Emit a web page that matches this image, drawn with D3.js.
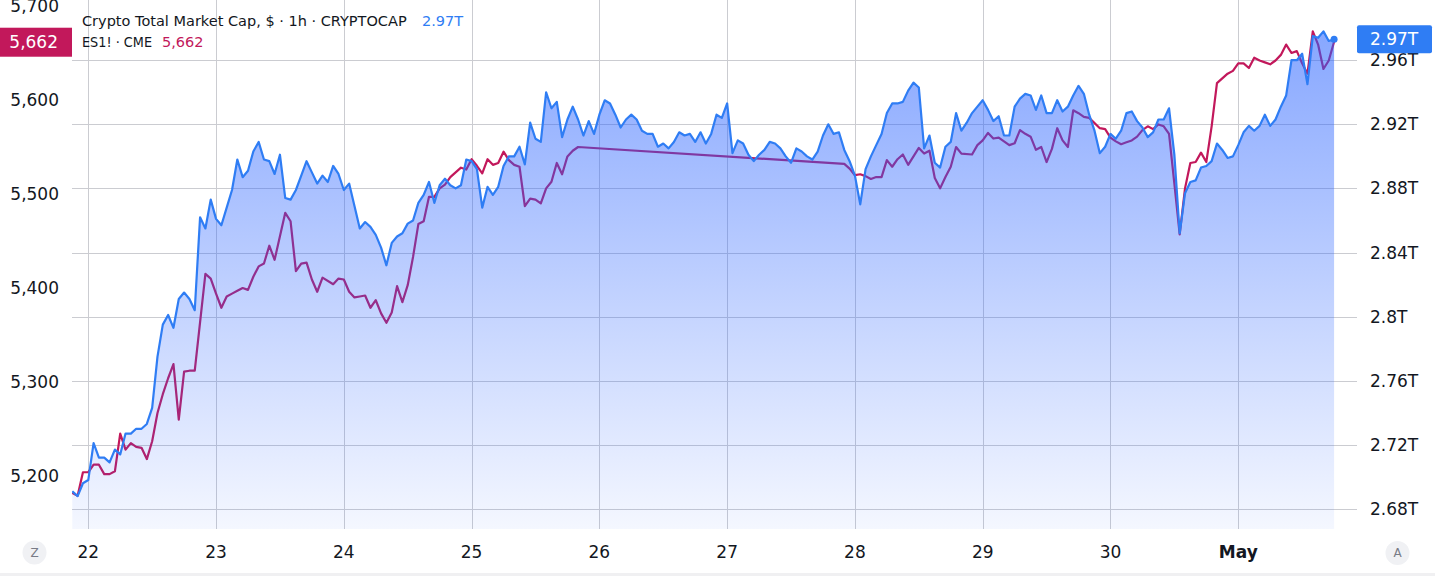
<!DOCTYPE html>
<html>
<head>
<meta charset="utf-8">
<script src="https://cdn.jsdelivr.net/npm/d3@7/dist/d3.min.js"></script>
<style>
  html, body { margin: 0; padding: 0; background: #ffffff; }
  svg { display: block; }
  text { font-family: "DejaVu Sans", "Noto Sans", sans-serif; }
</style>
</head>
<body>
<svg id="chart" width="1435" height="576"></svg>
<script>
// ---------------- DATA (hourly, UTC, starting 2025-04-21 21:00) ----------------
const startTime = Date.UTC(2025, 3, 21, 21);

// Crypto Total Market Cap, trillions of USD
const cryptoValues = [
  2.691, 2.688, 2.696,
  // Apr 22
  2.698, 2.721, 2.712, 2.712, 2.709, 2.717, 2.714, 2.727, 2.727, 2.730, 2.730, 2.733,
  2.743, 2.775, 2.795, 2.801, 2.793, 2.811, 2.815, 2.811, 2.804, 2.862, 2.855, 2.873,
  // Apr 23
  2.861, 2.857, 2.868, 2.879, 2.898, 2.887, 2.891, 2.903, 2.909, 2.898, 2.897, 2.889,
  2.901, 2.874, 2.873, 2.879, 2.888, 2.897, 2.890, 2.883, 2.888, 2.884, 2.894, 2.889,
  // Apr 24
  2.879, 2.883, 2.869, 2.855, 2.859, 2.856, 2.851, 2.843, 2.832, 2.846, 2.850, 2.852,
  2.858, 2.860, 2.871, 2.876, 2.884, 2.871, 2.882, 2.886, 2.882, 2.880, 2.882, 2.898,
  // Apr 25
  2.897, 2.892, 2.868, 2.881, 2.876, 2.881, 2.894, 2.900, 2.900, 2.906, 2.895, 2.921,
  2.911, 2.909, 2.940, 2.930, 2.934, 2.912, 2.923, 2.931, 2.923, 2.913, 2.922, 2.914,
  // Apr 26
  2.926, 2.935, 2.933, 2.926, 2.918, 2.923, 2.926, 2.923, 2.916, 2.914, 2.914, 2.906,
  2.908, 2.905, 2.909, 2.915, 2.913, 2.914, 2.909, 2.915, 2.908, 2.914, 2.926, 2.924,
  // Apr 27
  2.933, 2.902, 2.910, 2.908, 2.901, 2.897, 2.901, 2.904, 2.909, 2.908, 2.905, 2.900,
  2.896, 2.905, 2.903, 2.900, 2.898, 2.903, 2.913, 2.920, 2.914, 2.915, 2.904, 2.897,
  // Apr 28
  2.888, 2.870, 2.892, 2.900, 2.907, 2.914, 2.927, 2.933, 2.933, 2.934, 2.941, 2.946,
  2.943, 2.905, 2.913, 2.896, 2.893, 2.906, 2.909, 2.927, 2.916, 2.921, 2.927, 2.931,
  // Apr 29
  2.935, 2.929, 2.922, 2.925, 2.913, 2.913, 2.931, 2.936, 2.939, 2.938, 2.929, 2.938,
  2.927, 2.927, 2.935, 2.928, 2.931, 2.938, 2.944, 2.939, 2.926, 2.916, 2.902, 2.906,
  // Apr 30
  2.914, 2.911, 2.916, 2.927, 2.928, 2.922, 2.918, 2.912, 2.915, 2.923, 2.923, 2.930,
  2.901, 2.852, 2.877, 2.884, 2.885, 2.893, 2.894, 2.897, 2.908, 2.904, 2.899, 2.900,
  // May 1
  2.907, 2.915, 2.919, 2.916, 2.919, 2.926, 2.919, 2.923, 2.931, 2.938, 2.960, 2.960,
  2.964, 2.945, 2.975, 2.974, 2.978, 2.972, 2.973
];

// ES1! (CME E-mini S&P 500), null = no bar (daily break / weekend)
const esValues = [
  5182, 5179, 5204,
  // Apr 22
  5204, 5212, 5212, 5202, 5202, 5205, 5245, 5228, 5235, 5231, 5230, 5218,
  5237, 5267, 5287, 5304, 5319, 5260, 5311, 5312, 5312, null, 5415, 5410,
  // Apr 23
  5394, 5379, 5391, 5394, 5397, 5400, 5398, 5412, 5423, 5426, 5445, 5430,
  5455, 5480, 5471, 5418, 5426, 5427, 5409, 5396, 5411, null, 5404, 5410,
  // Apr 24
  5409, 5396, 5390, 5391, 5392, 5379, 5387, 5373, 5363, 5374, 5402, 5385,
  5403, 5433, 5468, 5471, 5497, 5497, 5506, 5510, 5518, null, 5528, 5526,
  // Apr 25
  5537, 5530, 5522, 5537, 5531, 5533, 5545, 5536, 5531, 5529, 5487, 5495,
  5494, 5490, 5506, 5513, 5533, 5521, 5540, 5546, 5550, null, null, null,
  // Apr 26
  null, null, null, null, null, null, null, null, null, null, null, null,
  null, null, null, null, null, null, null, null, null, null, null, null,
  // Apr 27
  null, null, null, null, null, null, null, null, null, null, null, null,
  null, null, null, null, null, null, null, null, null, null, 5532, 5527,
  // Apr 28
  5520, 5521, 5519, 5516, 5518, 5518, 5536, 5529, 5537, 5542, 5531, 5540,
  5549, 5543, 5546, 5517, 5506, 5518, 5529, 5550, 5543, null, 5542, 5552,
  // Apr 29
  5557, 5565, 5559, 5560, 5556, 5552, 5554, 5568, 5564, 5561, 5547, 5550,
  5534, 5548, 5570, 5557, 5550, 5589, 5586, 5582, 5581, null, 5570, 5569,
  // Apr 30
  5560, 5556, 5553, 5555, 5557, 5561, 5568, 5572, 5569, 5574, 5572, 5564,
  5511, 5457, 5506, 5533, 5534, 5544, 5534, 5572, 5618, null, 5628, 5631,
  // May 1
  5639, 5639, 5634, 5645, 5642, 5640, 5638, 5642, 5648, 5659, 5650, 5652,
  5639, 5628, 5673, 5659, 5633, 5642, 5662
];

const dayTicks = [22, 23, 24, 25, 26, 27, 28, 29, 30, 1];
const dayTickLabels = ["22", "23", "24", "25", "26", "27", "28", "29", "30", "May"];
const rightTicks = [2.68, 2.72, 2.76, 2.80, 2.84, 2.88, 2.92, 2.96];
const leftTicks = [5200, 5300, 5400, 5500, 5600, 5700];

const cryptoTitle = "Crypto Total Market Cap, $ · 1h · CRYPTOCAP";
const esTitle = "ES1! · CME";
const cryptoLast = "2.97T";
const esLast = "5,662";

// ---------------- LAYOUT ----------------
const W = 1435, H = 576;
const plotLeft = 72, plotRight = 1357, plotTop = 0, plotBottom = 529;
const blue = "#2F7DF4";
const red = "#C2185B";
const textColor = "#131722";
const gridColor = "#cbccd1";

const times = cryptoValues.map((_, i) => new Date(startTime + i * 3600 * 1000));

const x = d3.scaleUtc()
  .domain([times[0], times[times.length - 1]])
  .range([72.3, 72.3 + (times.length - 1) * 5.324]);

const yR = d3.scaleLinear().domain([2.68, 2.96]).range([508.9, 60.2]);
const yL = d3.scaleLinear().domain([5200, 5600]).range([476, 100]);

const svg = d3.select("#chart");
svg.append("rect").attr("width", W).attr("height", H).attr("fill", "#ffffff");

const defs = svg.append("defs");
defs.append("clipPath").attr("id", "plotClip")
  .append("rect").attr("x", plotLeft).attr("y", plotTop)
  .attr("width", plotRight - plotLeft).attr("height", plotBottom - plotTop);

const maxC = d3.max(cryptoValues);
const grad = defs.append("linearGradient").attr("id", "areaGrad")
  .attr("gradientUnits", "userSpaceOnUse")
  .attr("x1", 0).attr("x2", 0).attr("y1", yR(maxC)).attr("y2", plotBottom);
grad.append("stop").attr("offset", "0%").attr("stop-color", "rgb(41,98,255)").attr("stop-opacity", 0.56);
grad.append("stop").attr("offset", "100%").attr("stop-color", "rgb(41,98,255)").attr("stop-opacity", 0.05);

// ---------------- GRID ----------------
const grid = svg.append("g");
grid.selectAll("line.h").data(rightTicks).join("line")
  .attr("x1", plotLeft).attr("x2", plotRight)
  .attr("y1", d => Math.round(yR(d)) + 0.5).attr("y2", d => Math.round(yR(d)) + 0.5)
  .attr("stroke", gridColor).attr("stroke-width", 1);

const dayDates = dayTicks.map(d => d === 1 ? new Date(Date.UTC(2025, 4, 1)) : new Date(Date.UTC(2025, 3, d)));
grid.selectAll("line.v").data(dayDates).join("line")
  .attr("x1", d => Math.round(x(d)) + 0.5).attr("x2", d => Math.round(x(d)) + 0.5)
  .attr("y1", plotTop).attr("y2", plotBottom)
  .attr("stroke", gridColor).attr("stroke-width", 1);

// ---------------- SERIES ----------------
const plot = svg.append("g").attr("clip-path", "url(#plotClip)");

const esPoints = times.map((t, i) => ({ t, v: esValues[i] })).filter(d => d.v !== null);
plot.append("path")
  .datum(esPoints)
  .attr("fill", "none")
  .attr("stroke", red)
  .attr("stroke-width", 2.2)
  .attr("stroke-linejoin", "round")
  .attr("d", d3.line().x(d => x(d.t)).y(d => yL(d.v)));

const cPoints = times.map((t, i) => ({ t, v: cryptoValues[i] }));
plot.append("path")
  .datum(cPoints)
  .attr("fill", "url(#areaGrad)")
  .attr("d", d3.area().x(d => x(d.t)).y0(plotBottom).y1(d => yR(d.v)));

plot.append("path")
  .datum(cPoints)
  .attr("fill", "none")
  .attr("stroke", blue)
  .attr("stroke-width", 2.2)
  .attr("stroke-linejoin", "round")
  .attr("d", d3.line().x(d => x(d.t)).y(d => yR(d.v)));

const lastC = cPoints[cPoints.length - 1];
svg.append("circle").attr("cx", x(lastC.t)).attr("cy", yR(lastC.v)).attr("r", 3.5).attr("fill", blue);

// ---------------- AXES ----------------
// right price scale
svg.append("g").selectAll("text").data(rightTicks).join("text")
  .attr("x", 1370).attr("y", d => yR(d))
  .attr("dominant-baseline", "central")
  .attr("font-size", 17).attr("fill", textColor)
  .text(d => (+d.toFixed(2)).toString() + "T");

// left price scale
svg.append("g").selectAll("text").data(leftTicks).join("text")
  .attr("x", 59).attr("y", d => yL(d))
  .attr("text-anchor", "end")
  .attr("dominant-baseline", "central")
  .attr("font-size", 17).attr("fill", textColor)
  .text(d => d3.format(",")(d));

// time scale
svg.append("g").selectAll("text").data(dayDates).join("text")
  .attr("x", d => x(d)).attr("y", 552)
  .attr("text-anchor", "middle")
  .attr("dominant-baseline", "central")
  .attr("font-size", 17).attr("fill", textColor)
  .attr("font-weight", (d, i) => dayTickLabels[i] === "May" ? "bold" : "normal")
  .text((d, i) => dayTickLabels[i]);

// bottom strip
svg.append("rect").attr("x", 0).attr("y", 573).attr("width", W).attr("height", 3).attr("fill", "#f0f0f2");

// Z / A buttons
[["Z", 34.5, 552.5], ["A", 1397.5, 553]].forEach(([t, cx, cy]) => {
  svg.append("circle").attr("cx", cx).attr("cy", cy).attr("r", 12).attr("fill", "#f0f1f4");
  svg.append("text").attr("x", cx).attr("y", cy).attr("text-anchor", "middle")
    .attr("dominant-baseline", "central").attr("font-size", 12).attr("fill", "#787b86").text(t);
});

// last-value tags
const cy = yR(lastC.v);
svg.append("rect").attr("x", 1357).attr("y", cy - 14).attr("width", 75).attr("height", 28).attr("rx", 2).attr("fill", blue);
svg.append("text").attr("x", 1370).attr("y", cy).attr("dominant-baseline", "central")
  .attr("font-size", 17).attr("fill", "#ffffff").text(cryptoLast);

const ey = yL(esValues[esValues.length - 1]);
svg.append("rect").attr("x", 0).attr("y", ey - 14).attr("width", 72).attr("height", 29).attr("fill", red);
svg.append("text").attr("x", 58).attr("y", ey + 0.5).attr("text-anchor", "end").attr("dominant-baseline", "central")
  .attr("font-size", 17).attr("fill", "#ffffff").text(esLast);

// ---------------- LEGEND ----------------
const lg = svg.append("g").attr("font-size", 14.5);
lg.append("text").attr("x", 82).attr("y", 20.5).attr("dominant-baseline", "central").attr("fill", textColor).text(cryptoTitle);
lg.append("text").attr("x", 422).attr("y", 20.5).attr("dominant-baseline", "central").attr("fill", blue).text(cryptoLast);
lg.append("text").attr("x", 82).attr("y", 41.5).attr("dominant-baseline", "central").attr("fill", textColor)
  .attr("textLength", 70).attr("lengthAdjust", "spacingAndGlyphs").text(esTitle);
lg.append("text").attr("x", 162).attr("y", 41.5).attr("dominant-baseline", "central").attr("fill", red).text(esLast);
</script>
</body>
</html>
